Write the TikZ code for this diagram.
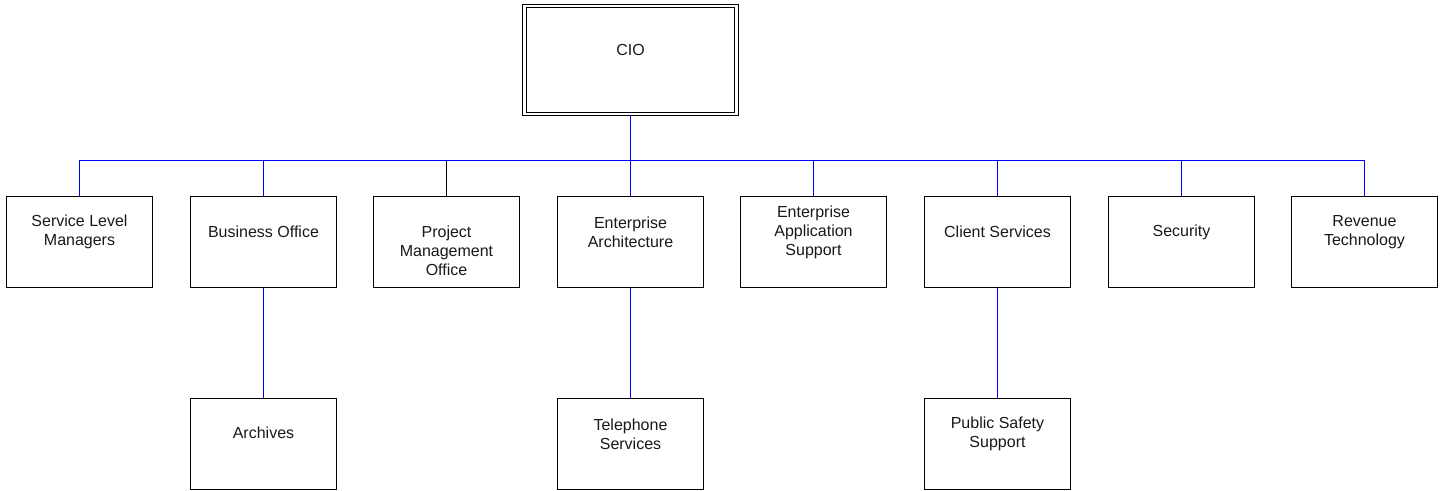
\documentclass[tikz,border=0pt]{standalone}
\usepackage{fontspec}
\setmainfont{Liberation Sans}
\begin{document}
\begin{tikzpicture}[x=1pt,y=-1pt,
  box/.style={draw=black,line width=1.2pt,minimum width=146pt,minimum height=91pt,inner sep=0pt,fill=white},
  txt/.style={align=center,font=\fontsize{16}{19}\selectfont,text=black!90,inner sep=0pt},
  conn/.style={draw=blue,line width=1.2pt},
  connk/.style={draw=black,line width=1.2pt}]
\useasboundingbox (0,0) rectangle (1445,490);
% CIO
\node[draw=black,line width=1pt,double,double distance=2.5pt,minimum width=212pt,minimum height=108pt,inner sep=0pt] (cio) at (630.5,60) {};
\node[txt] (ciot) at (630.5,50) {CIO};
% row 1
\node[box] (slm) at (79.5,242) {};
\node[box] (bo)  at (263.5,242) {};
\node[box] (pmo) at (446.5,242) {};
\node[box] (ea)  at (630.5,242) {};
\node[box] (eas) at (813.5,242) {};
\node[box] (cs)  at (997.5,242) {};
\node[box] (sec) at (1181.5,242) {};
\node[box] (rev) at (1364.5,242) {};
% row 2
\node[box] (arc) at (263.5,444) {};
\node[box] (tel) at (630.5,444) {};
\node[box] (pss) at (997.5,444) {};
% texts
\node[txt] at (79.5,232) {Service Level\\Managers};
\node[txt] at (263.5,232) {Business Office};
\node[txt] at (446.5,251) {Project\\Management\\Office};
\node[txt] at (630.5,232) {Enterprise\\Architecture};
\node[txt] at (813.5,232) {Enterprise\\Application\\Support};
\node[txt] at (997.5,232) {Client Services};
\node[txt] at (1181.5,232) {Security};
\node[txt] at (1364.5,232) {Revenue\\Technology};
\node[txt] at (263.5,433) {Archives};
\node[txt] at (630.5,434) {Telephone\\Services};
\node[txt] at (997.5,434) {Public Safety\\Support};
% connectors
\coordinate (bus) at (630.5,160.5);
\draw[conn] (cio.south) -- (bus);
\draw[conn] (slm.north) -- (slm.north |- bus) -| (rev.north);
\draw[conn] (bo.north) -- (bo.north |- bus);
\draw[connk] (pmo.north) -- (pmo.north |- bus);
\draw[conn] (ea.north) -- (ea.north |- bus);
\draw[conn] (eas.north) -- (eas.north |- bus);
\draw[conn] (cs.north) -- (cs.north |- bus);
\draw[conn] (sec.north) -- (sec.north |- bus);
\draw[conn] (bo.south) -- (arc.north);
\draw[conn] (ea.south) -- (tel.north);
\draw[conn] (cs.south) -- (pss.north);
\end{tikzpicture}
\end{document}
